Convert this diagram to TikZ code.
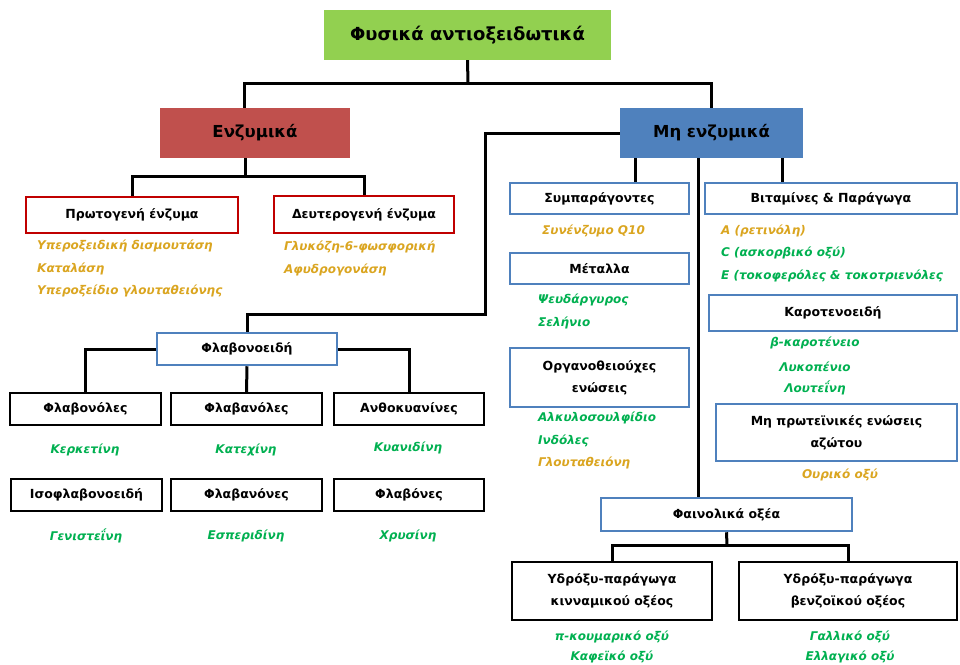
\documentclass[tikz,border=0pt]{standalone}
\usepackage{fontspec}
\setmainfont{DejaVu Sans}
\usetikzlibrary{calc}
\definecolor{topgreen}{HTML}{92D050}
\definecolor{enzred}{HTML}{C0504D}
\definecolor{nonblue}{HTML}{4F81BD}
\definecolor{darkred}{HTML}{C00000}
\definecolor{goldtxt}{RGB}{218,165,32}
\definecolor{greentxt}{HTML}{00B050}
\tikzset{
  headbox/.style={rectangle, draw=none, font=\fontsize{16.5}{20}\selectfont\bfseries, inner sep=0pt},
  blackbox/.style={rectangle, draw=black, line width=2pt, fill=white, inner sep=0pt, align=center, font=\fontsize{12.5}{22}\selectfont\bfseries},
  bluebox/.style={blackbox, draw=nonblue, line width=2.5pt},
  redbox/.style={blackbox, draw=darkred, line width=2.5pt},
  leafgold/.style={inner sep=0pt, text=goldtxt, font=\fontsize{12}{14}\selectfont\bfseries\itshape},
  leafgreen/.style={inner sep=0pt, text=greentxt, font=\fontsize{12}{14}\selectfont\bfseries\itshape},
  link/.style={draw=black, line width=3pt}
}
\begin{document}
\begin{tikzpicture}[x=1pt,y=-1pt]
\useasboundingbox (0,0) rectangle (960,664);
% level 0/1
\node[headbox, fill=topgreen, minimum width=287, minimum height=50, font=\fontsize{18}{20}\selectfont\bfseries] (top) at (467.5,35) {Φυσικά αντιοξειδωτικά};
\node[headbox, fill=enzred, minimum width=190, minimum height=50] (enz) at (255,133) {Ενζυμικά};
\node[headbox, fill=nonblue, minimum width=183, minimum height=50] (nonenz) at (711.5,133) {Μη ενζυμικά};
% enzymes
\node[redbox, minimum width=212, minimum height=36] (prim) at (132,215) {Πρωτογενή ένζυμα};
\node[redbox, minimum width=180, minimum height=37] (sec) at (364,214.5) {Δευτερογενή ένζυμα};
\node[leafgold, anchor=west] (p1) at (37,246) {Υπεροξειδική δισμουτάση};
\node[leafgold, anchor=west] (p2) at (37,269) {Καταλάση};
\node[leafgold, anchor=west] (p3) at (37,291) {Υπεροξείδιο γλουταθειόνης};
\node[leafgold, anchor=west] (s1) at (284,247) {Γλυκόζη-6-φωσφορική};
\node[leafgold, anchor=west] (s2) at (284,270) {Αφυδρογονάση};
% flavonoids
\node[bluebox, minimum width=180, minimum height=32] (flav) at (247,349) {Φλαβονοειδή};
\node[blackbox, minimum width=151, minimum height=32] (fl1) at (85.5,409) {Φλαβονόλες};
\node[blackbox, minimum width=151, minimum height=32] (fl2) at (246.5,409) {Φλαβανόλες};
\node[blackbox, minimum width=150, minimum height=32] (fl3) at (409,409) {Ανθοκυανίνες};
\node[blackbox, minimum width=151, minimum height=32] (fl4) at (86.5,495) {Ισοφλαβονοειδή};
\node[blackbox, minimum width=151, minimum height=32] (fl5) at (246.5,495) {Φλαβανόνες};
\node[blackbox, minimum width=150, minimum height=32] (fl6) at (409,495) {Φλαβόνες};
\node[leafgreen] (f1) at (85,450) {Κερκετίνη};
\node[leafgreen] (f2) at (246,450) {Κατεχίνη};
\node[leafgreen] (f3) at (408,448) {Κυανιδίνη};
\node[leafgreen] (f4) at (86,536) {Γενιστεΐνη};
\node[leafgreen] (f5) at (246,536) {Εσπεριδίνη};
\node[leafgreen] (f6) at (408,536) {Χρυσίνη};
% middle column
\node[bluebox, minimum width=179, minimum height=31] (sym) at (599.5,198.5) {Συμπαράγοντες};
\node[leafgold, anchor=west] (m1) at (542,231) {Συνένζυμο Q10};
\node[bluebox, minimum width=179, minimum height=31] (met) at (599.5,268.5) {Μέταλλα};
\node[leafgreen, anchor=west] (m2) at (538,300) {Ψευδάργυρος};
\node[leafgreen, anchor=west] (m3) at (538,323) {Σελήνιο};
\node[bluebox, minimum width=179, minimum height=59] (org) at (599.5,377.5) {Οργανοθειούχες\\ενώσεις};
\node[leafgreen, anchor=west] (m4) at (538,418) {Αλκυλοσουλφίδιο};
\node[leafgreen, anchor=west] (m5) at (538,441) {Ινδόλες};
\node[leafgold, anchor=west] (m6) at (538,463) {Γλουταθειόνη};
% right column
\node[bluebox, minimum width=252, minimum height=31] (vit) at (831,198.5) {Βιταμίνες \& Παράγωγα};
\node[leafgold, anchor=west] (v1) at (721,231) {A (ρετινόλη)};
\node[leafgreen, anchor=west] (v2) at (721,253) {C (ασκορβικό οξύ)};
\node[leafgreen, anchor=west] (v3) at (721,276) {E (τοκοφερόλες \& τοκοτριενόλες};
\node[bluebox, minimum width=248, minimum height=36] (car) at (833,313) {Καροτενοειδή};
\node[leafgreen] (c1) at (815,343) {β-καροτένειο};
\node[leafgreen] (c2) at (815,367) {Λυκοπένιο};
\node[leafgreen] (c3) at (815,388) {Λουτεΐνη};
\node[bluebox, minimum width=241, minimum height=57] (npr) at (836.5,432.5) {Μη πρωτεϊνικές ενώσεις\\αζώτου};
\node[leafgold] (n1) at (840,475) {Ουρικό οξύ};
% phenolic acids
\node[bluebox, minimum width=251, minimum height=33] (phen) at (726.5,514.5) {Φαινολικά οξέα};
\node[blackbox, minimum width=200, minimum height=58] (h1) at (612,591) {Υδρόξυ-παράγωγα\\κινναμικού οξέος};
\node[blackbox, minimum width=218, minimum height=58] (h2) at (848,591) {Υδρόξυ-παράγωγα\\βενζοϊκού οξέος};
\node[leafgreen] (k1) at (612,637) {π-κουμαρικό οξύ};
\node[leafgreen] (k2) at (612,657) {Καφεϊκό οξύ};
\node[leafgreen] (k3) at (850,637) {Γαλλικό οξύ};
\node[leafgreen] (k4) at (850,657) {Ελλαγικό οξύ};
% connectors
\coordinate (b0) at (468,83);
\coordinate (b1) at (245,176);
\coordinate (b2) at (485,314);
\coordinate (b3) at (727,545);
\coordinate (x1) at (635,0);
\coordinate (x2) at (698,0);
\coordinate (x3) at (782,0);
\draw[link] (top.south) -- (b0);
\draw[link] ([xshift=-11pt]enz.north) |- (b0) -| (nonenz.north);
\draw[link] (enz.south -| b1) -- (b1);
\draw[link] (prim.north) |- (b1) -| (sec.north);
\draw[link] (nonenz.west) -| (b2) -| (flav.north);
\draw[link] (flav.west) -| (fl1.north);
\draw[link] (flav.south) -- (fl2.north);
\draw[link] (flav.east) -| (fl3.north);
\draw[link] (nonenz.south -| x1) -- (sym.north -| x1);
\draw[link] (nonenz.south -| x2) -- (phen.north -| x2);
\draw[link] (nonenz.south -| x3) -- (vit.north -| x3);
\draw[link] (phen.south) -- (b3);
\draw[link] (h1.north) |- (b3) -| (h2.north);
\end{tikzpicture}
\end{document}
